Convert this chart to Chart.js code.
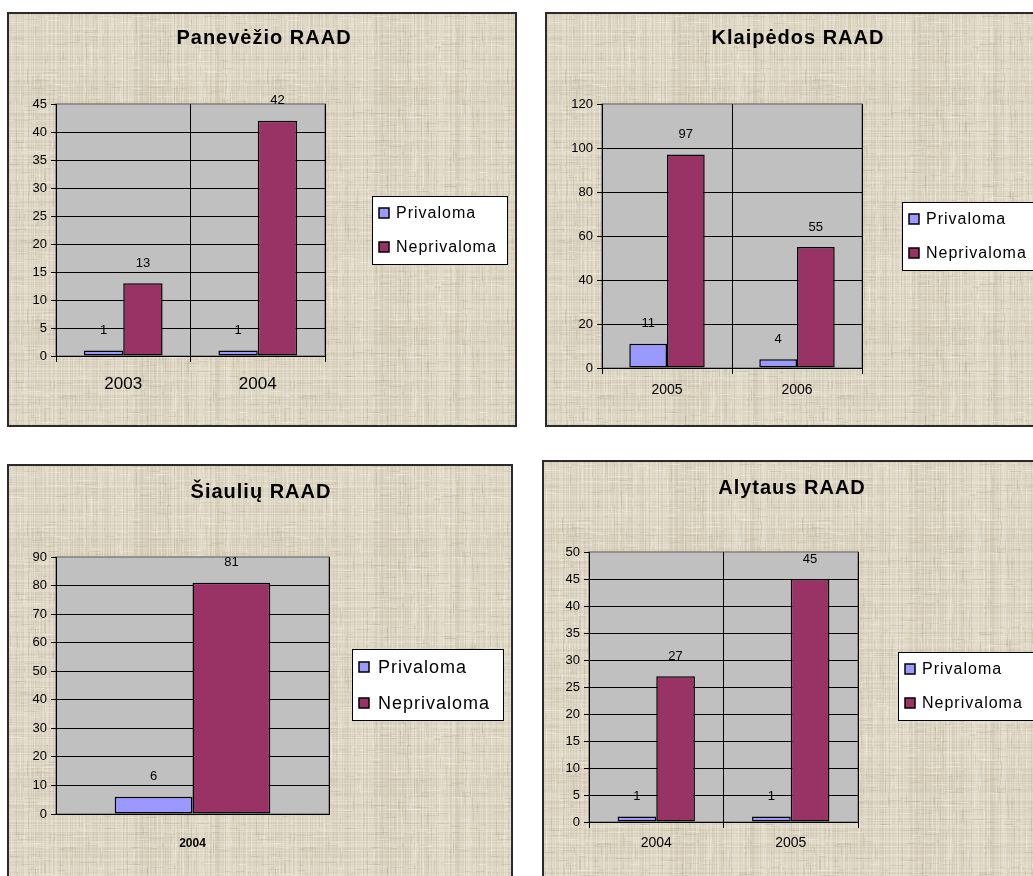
<!DOCTYPE html>
<html>
<head>
<meta charset="utf-8">
<script src="https://cdn.jsdelivr.net/npm/chart.js@4.4.1/dist/chart.umd.min.js"></script>
<style>
  html, body { margin: 0; padding: 0; background: #ffffff; width: 1033px; height: 876px; overflow: hidden; }
  canvas { position: absolute; }
</style>
</head>
<body>
<canvas id="panevezys"></canvas>
<canvas id="klaipeda"></canvas>
<canvas id="siauliai"></canvas>
<canvas id="alytus"></canvas>
<script>
// Series names shared by all four regional charts
const seriesLabels = ['Privaloma', 'Neprivaloma'];
const seriesColors = ['#9999ff', '#993366'];

// Panevėžio RAAD
const panevezysTitle = 'Panevėžio RAAD';
const panevezysYears = ['2003', '2004'];
const panevezysPrivaloma = [1, 1];
const panevezysNeprivaloma = [13, 42];
const panevezysTicks = { max: 45, step: 5 };

// Klaipėdos RAAD
const klaipedaTitle = 'Klaipėdos RAAD';
const klaipedaYears = ['2005', '2006'];
const klaipedaPrivaloma = [11, 4];
const klaipedaNeprivaloma = [97, 55];
const klaipedaTicks = { max: 120, step: 20 };

// Šiaulių RAAD
const siauliaiTitle = 'Šiaulių RAAD';
const siauliaiYears = ['2004'];
const siauliaiPrivaloma = [6];
const siauliaiNeprivaloma = [81];
const siauliaiTicks = { max: 90, step: 10 };

// Alytaus RAAD
const alytusTitle = 'Alytaus RAAD';
const alytusYears = ['2004', '2005'];
const alytusPrivaloma = [1, 1];
const alytusNeprivaloma = [27, 45];
const alytusTicks = { max: 50, step: 5 };

const FONT = '"Liberation Sans", Arial, sans-serif';

// Woven linen backdrop, built once as a repeating tile
function linenTile() {
  const c = document.createElement('canvas');
  c.width = 240; c.height = 240;
  const g = c.getContext('2d');
  g.fillStyle = '#ddd5c2';
  g.fillRect(0, 0, 240, 240);
  const h = n => { const s = Math.sin(n * 12.9898 + 78.233) * 43758.5453; return s - Math.floor(s); };
  for (let i = 0; i < 240; i++) {
    const v = h(i + 1);
    g.fillStyle = v > 0.5 ? `rgba(242,237,225,${(v - 0.5) * 0.8})` : `rgba(160,148,122,${(0.5 - v) * 0.3})`;
    g.fillRect(i, 0, 1, 240);
    const w = h(i + 701);
    g.fillStyle = w > 0.5 ? `rgba(242,237,225,${(w - 0.5) * 0.6})` : `rgba(160,148,122,${(0.5 - w) * 0.22})`;
    g.fillRect(0, i, 240, 1);
  }
  for (let k = 0; k < 900; k++) {
    const x = Math.floor(h(k * 3 + 11) * 240), y = Math.floor(h(k * 7 + 5) * 240);
    const len = 3 + Math.floor(h(k + 97) * 14);
    const dark = h(k + 333) > 0.55;
    g.fillStyle = dark ? 'rgba(150,136,108,0.16)' : 'rgba(248,244,234,0.3)';
    if (k % 2) g.fillRect(x, y, 1, len); else g.fillRect(x, y, len, 1);
  }
  return c;
}
const tile = linenTile();

// Background, frame, plot area fill, title, legend and value labels
const panelDecor = {
  id: 'panelDecor',
  beforeDraw(chart, args, o) {
    const ctx = chart.ctx, a = chart.chartArea;
    ctx.save();
    ctx.fillStyle = ctx.createPattern(tile, 'repeat');
    ctx.fillRect(0, 0, chart.width, chart.height);
    ctx.strokeStyle = '#2a2a2a';
    ctx.lineWidth = 2;
    ctx.strokeRect(1, 1, chart.width - 2, chart.height - 2);
    ctx.fillStyle = '#c0c0c0';
    ctx.fillRect(a.left, a.top, a.right - a.left, a.bottom - a.top);
    ctx.strokeStyle = '#808080';
    ctx.lineWidth = 1.5;
    ctx.strokeRect(a.left, a.top, a.right - a.left, a.bottom - a.top);

    // title
    ctx.fillStyle = '#000';
    ctx.font = `bold 20px ${FONT}`;
    ctx.letterSpacing = '1px';
    ctx.textAlign = 'center';
    ctx.textBaseline = 'middle';
    ctx.fillText(o.title, o.titleX, o.titleY);

    // legend box
    const L = o.legend;
    ctx.fillStyle = '#ffffff';
    ctx.fillRect(L.x, L.y, L.w, L.h);
    ctx.strokeStyle = '#000';
    ctx.lineWidth = 1;
    ctx.strokeRect(L.x + 0.5, L.y + 0.5, L.w, L.h);
    ctx.font = `${L.size}px ${FONT}`;
    ctx.letterSpacing = L.spacing;
    ctx.textAlign = 'left';
    chart.data.datasets.forEach((ds, i) => {
      const cy = L.rows[i];
      ctx.fillStyle = ds.backgroundColor;
      ctx.fillRect(L.swatchX, cy - 5, 10, 10);
      ctx.strokeStyle = '#000';
      ctx.lineWidth = 1.5;
      ctx.strokeRect(L.swatchX, cy - 5, 10, 10);
      ctx.fillStyle = '#000';
      ctx.fillText(ds.label, L.textX, cy + 1);
    });
    ctx.restore();
  },
  afterDatasetsDraw(chart) {
    const ctx = chart.ctx;
    ctx.save();
    ctx.font = `13px ${FONT}`;
    ctx.fillStyle = '#000';
    ctx.textAlign = 'center';
    ctx.textBaseline = 'middle';
    chart.data.datasets.forEach((ds, i) => {
      chart.getDatasetMeta(i).data.forEach((bar, j) => {
        ctx.fillText(String(ds.data[j]), bar.x, bar.y - 20);
      });
    });
    ctx.restore();
  }
};

function makePanel(id, box, area, title, years, priv, nepriv, ticks, look) {
  const el = document.getElementById(id);
  el.style.left = box.left + 'px';
  el.style.top = box.top + 'px';
  el.width = box.w;
  el.height = box.h;
  const xAxisH = 44;
  const n = years.length;
  return new Chart(el, {
    type: 'bar',
    data: {
      labels: years,
      datasets: [
        { label: seriesLabels[0], data: priv, backgroundColor: seriesColors[0] },
        { label: seriesLabels[1], data: nepriv, backgroundColor: seriesColors[1] }
      ]
    },
    options: {
      responsive: false,
      animation: false,
      devicePixelRatio: 1,
      layout: {
        padding: { left: 0, top: area.top, right: box.w - area.right, bottom: box.h - area.bottom - xAxisH }
      },
      datasets: {
        bar: {
          borderColor: '#000',
          borderWidth: 1.5,
          borderSkipped: false,
          categoryPercentage: look.cat,
          barPercentage: 1
        }
      },
      plugins: {
        legend: { display: false },
        title: { display: false },
        tooltip: { enabled: false },
        panelDecor: {
          title: title, titleX: look.titleX, titleY: look.titleY,
          legend: look.legend
        }
      },
      scales: {
        x: {
          afterFit: s => { s.height = xAxisH; },
          grid: {
            offset: true,
            color: c => (c.index === 0 || c.index >= n) ? 'rgba(0,0,0,0)' : '#000',
            tickColor: look.xTickColor,
            tickLength: 6,
            lineWidth: 1
          },
          border: { color: '#000', width: 1 },
          ticks: {
            color: '#000',
            font: { family: FONT, size: look.xSize, weight: look.xWeight },
            padding: look.xPad
          }
        },
        y: {
          min: 0,
          max: ticks.max,
          afterFit: s => { s.width = area.left; },
          grid: {
            color: c => (c.tick && c.tick.value === ticks.max) ? 'rgba(0,0,0,0)' : '#000',
            tickColor: '#000',
            tickLength: 5,
            lineWidth: 1
          },
          border: { color: '#000', width: 1 },
          ticks: {
            stepSize: ticks.step,
            color: '#000',
            font: { family: FONT, size: 13 },
            padding: 4
          }
        }
      }
    },
    plugins: [panelDecor]
  });
}

makePanel('panevezys',
  { left: 7, top: 12, w: 510, h: 415 },
  { left: 49, right: 318, top: 92, bottom: 344 },
  panevezysTitle, panevezysYears, panevezysPrivaloma, panevezysNeprivaloma, panevezysTicks,
  { cat: 0.585, titleX: 257, titleY: 26, xSize: 17, xWeight: 'normal', xPad: 12, xTickColor: '#000',
    legend: { x: 365, y: 184, w: 135, h: 68, swatchX: 372, textX: 389, rows: [201, 235], size: 16, spacing: '1px' } });

makePanel('klaipeda',
  { left: 545, top: 12, w: 510, h: 415 },
  { left: 57, right: 317, top: 92, bottom: 356 },
  klaipedaTitle, klaipedaYears, klaipedaPrivaloma, klaipedaNeprivaloma, klaipedaTicks,
  { cat: 0.58, titleX: 253, titleY: 26, xSize: 14, xWeight: 'normal', xPad: 8, xTickColor: '#000',
    legend: { x: 357, y: 190, w: 140, h: 68, swatchX: 364, textX: 381, rows: [207, 241], size: 16, spacing: '1px' } });

makePanel('siauliai',
  { left: 7, top: 464, w: 506, h: 430 },
  { left: 49, right: 322, top: 93, bottom: 350 },
  siauliaiTitle, siauliaiYears, siauliaiPrivaloma, siauliaiNeprivaloma, siauliaiTicks,
  { cat: 0.57, titleX: 254, titleY: 28, xSize: 12, xWeight: 'bold', xPad: 16, xTickColor: 'rgba(0,0,0,0)',
    legend: { x: 345, y: 185, w: 151, h: 71, swatchX: 352, textX: 371, rows: [203, 239], size: 18, spacing: '1px' } });

makePanel('alytus',
  { left: 542, top: 460, w: 510, h: 430 },
  { left: 47, right: 316, top: 92, bottom: 362 },
  alytusTitle, alytusYears, alytusPrivaloma, alytusNeprivaloma, alytusTicks,
  { cat: 0.575, titleX: 250, titleY: 28, xSize: 14, xWeight: 'normal', xPad: 7, xTickColor: '#000',
    legend: { x: 356, y: 192, w: 140, h: 68, swatchX: 363, textX: 380, rows: [209, 243], size: 16, spacing: '1px' } });
</script>
</body>
</html>
